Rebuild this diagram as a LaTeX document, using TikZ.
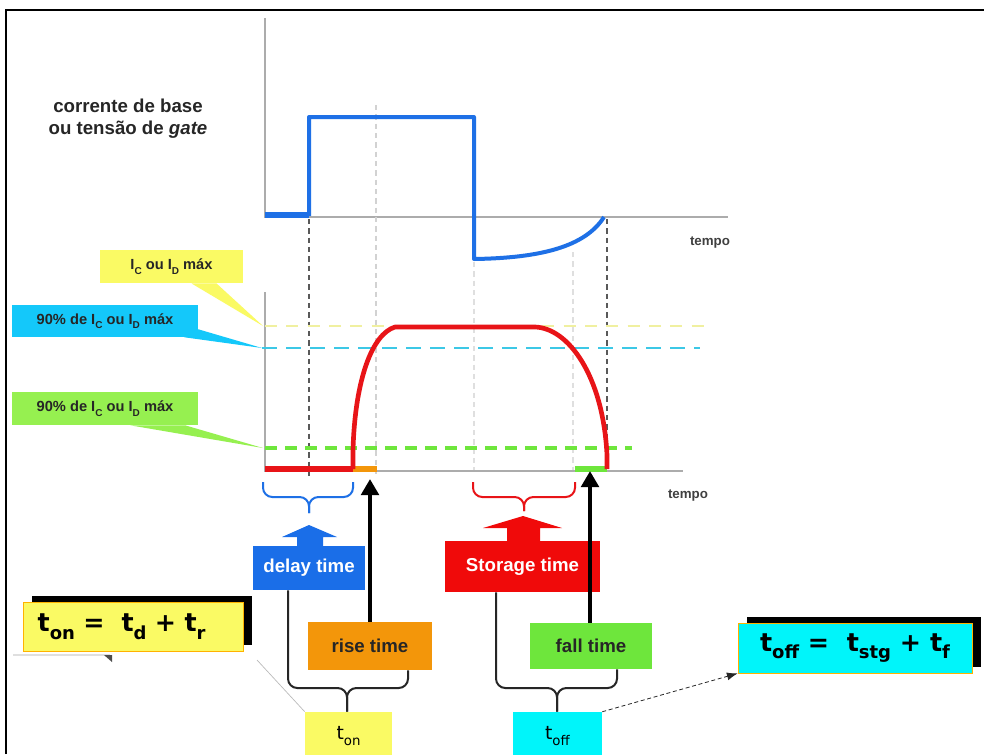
\documentclass[tikz,border=0pt]{standalone}
\usepackage{fontspec}
\setmainfont{Liberation Sans}
\newfontfamily\dvs{DejaVu Sans}
\usetikzlibrary{arrows.meta,shadows,calc}
\newcommand\fs[2]{\fontsize{#1}{#2}\selectfont}
\newcommand\sbx[2][7.5pt]{\raisebox{-0.3em}{\fontsize{#1}{#1}\selectfont #2}}
\definecolor{wblue}{RGB}{30,112,230}
\definecolor{wred}{RGB}{232,20,24}
\definecolor{worange}{RGB}{243,150,10}
\definecolor{wgreen}{RGB}{110,230,60}
\definecolor{lyellow}{RGB}{250,250,100}
\definecolor{lcyan}{RGB}{20,200,250}
\definecolor{lgreen}{RGB}{150,240,80}
\definecolor{pcyan}{RGB}{0,245,250}
\definecolor{dyellow}{RGB}{240,240,160}
\definecolor{dcyan}{RGB}{60,200,230}
\definecolor{bdelay}{RGB}{26,110,232}
\definecolor{rstor}{RGB}{240,10,10}
\tikzset{
  axisline/.style={draw=gray!65, line width=1.1pt},
  guide/.style={draw=gray!70!black, line width=0.8pt, dash pattern=on 4pt off 3pt},
  faintguide/.style={draw=gray!35, line width=0.8pt, dash pattern=on 4pt off 3pt},
  wave/.style={line width=3pt, line join=round},
  lab/.style={inner sep=0pt, font=\fs{11pt}{13pt}\bfseries, text=black!85},
  tbox/.style={inner sep=0pt, font=\fs{14pt}{16pt}\bfseries},
  sumbox/.style={inner sep=0pt, font=\dvs\fs{14pt}{16pt}},
  formula/.style={inner sep=0pt, draw=orange!60!yellow, line width=0.6pt,
    font=\dvs\bfseries\fs{19pt}{22pt},
    drop shadow={shadow xshift=6.5pt, shadow yshift=4.5pt, opacity=1, fill=black}},
  bracket/.style={line width=1.5pt, rounded corners=7pt},
  blackarrow/.style={draw=black, line width=3pt, -{Triangle[width=13pt,length=12pt]}},
  tempolab/.style={font=\fs{10pt}{12pt}\bfseries, text=black!75, inner sep=0pt}
}
\begin{document}
\begin{tikzpicture}[x=0.75pt,y=-0.75pt]
\path[use as bounding box, clip] (0,0) rectangle (988,754);
\fill[white] (0,0) rectangle (988,754);
% frame
\draw[line width=1.8pt] (6,754) -- (6,10) -- (984,10);

% ---------- top graph ----------
\draw[axisline] (265,18) -- (265,217) -- (728,217);
\node[tempolab] (tempo1) at (710,243) {tempo};
\node[align=center, font=\fs{14pt}{16.5pt}\bfseries, text=black!85, inner sep=0pt] (ylab) at (128,119)
  {corrente de base\\ou tensão de \textit{gate}};

% guides
\draw[guide] (309,219) -- (309,477);
\draw[faintguide] (376,105) -- (376,475);
\draw[faintguide, draw=gray!25] (474,262) -- (474,471);
\draw[faintguide, draw=gray!25] (573,252) -- (573,471);
\draw[guide] (607,219) -- (607,471);

% blue waveform
\draw[draw=wblue, line width=4.5pt] (265,215) -- (309,215);
\draw[wave, draw=wblue] (309,216) -- (309,117) -- (474,117) -- (474,259)
   .. controls (540,258) and (585,247) .. (604,217);

% ---------- bottom graph ----------
\draw[axisline] (265,292) -- (265,471) -- (683,471);
\node[tempolab] (tempo2) at (688,496) {tempo};

\draw[draw=dyellow, line width=2.2pt, dash pattern=on 9pt off 7pt] (265,326) -- (710,326);
\draw[draw=dcyan, line width=1.3pt, dash pattern=on 11pt off 7pt] (262,348) -- (700,348);
\draw[draw=wgreen, line width=3pt, dash pattern=on 9pt off 6pt] (265,448) -- (632,448);

\draw[draw=wred, line width=4.5pt] (265,469) -- (353,469);
\draw[draw=worange, line width=4.5pt] (353,469) -- (377,469);
\draw[draw=wgreen, line width=4.5pt] (575,469) -- (607,469);
\draw[wave, draw=wred, line width=3.5pt] (353,469) -- (353,450)
   .. controls (355,380) and (372,334) .. (395,327) -- (535,327)
   .. controls (568,328) and (603,375) .. (607,455) -- (607,469);

% ---------- left callouts ----------
\node[lab, fill=lyellow, minimum width=107pt, minimum height=25pt] (lmax) at (171.5,266.5)
  {I\sbx{C} ou I\sbx{D} máx};
\node[lab, fill=lcyan, minimum width=139.5pt, minimum height=24pt] (l90) at (105,321)
  {90\% de I\sbx{C} ou I\sbx{D} máx};
\node[lab, fill=lgreen, minimum width=139.5pt, minimum height=24.75pt] (l10) at (105,408.5)
  {90\% de I\sbx{C} ou I\sbx{D} máx};
\coordinate (pmax) at (263,326);
\coordinate (p90) at (262,348);
\coordinate (p10) at (263,448);
\fill[lyellow] ($(lmax.south)+(20,0)$) -- ($(lmax.south)+(45,0)$) -- (pmax) -- cycle;
\fill[lcyan] ($(l90.south east)+(-14,0)$) -- ($(l90.south east)+(0,-8)$) -- (p90) -- cycle;
\fill[lgreen] ($(l10.south)+(25,0)$) -- ($(l10.south)+(80,0)$) -- (p10) -- cycle;

% ---------- braces under the time axis ----------
\draw[bracket, draw=wblue] (263,482) -- (263,497) -- (309,497) -- (309,513);
\draw[bracket, draw=wblue] (353,482) -- (353,497) -- (309,497) -- (309,513);
\draw[bracket, draw=wred] (473,482) -- (473,497) -- (524,497) -- (524,511);
\draw[bracket, draw=wred] (575,482) -- (575,497) -- (524,497) -- (524,511);

% block arrows
\fill[bdelay] (309,525) -- (337,537) -- (323,537) -- (323,547) -- (297,547) -- (297,537) -- (282,537) -- cycle;
\fill[rstor] (523,516) -- (562,528) -- (540,528) -- (540,542) -- (507,542) -- (507,528) -- (483,528) -- cycle;

% ---------- boxes ----------
\node[tbox, fill=bdelay, text=white, minimum width=84pt, minimum height=33pt] (delay) at (309,568) {delay time};
\node[tbox, fill=rstor, text=white, minimum width=116.25pt, minimum height=38.25pt] (stor) at (522.5,566.5) {Storage time};
\node[tbox, fill=worange, text=black!85, minimum width=93pt, minimum height=36pt] (rise) at (370,646) {rise time};
\node[tbox, fill=wgreen, text=black!85, minimum width=91.5pt, minimum height=34.5pt] (fall) at (591,646) {fall time};
\node[sumbox, fill=lyellow, minimum width=65.25pt, minimum height=36pt] (ton) at (348.5,736) {t\sbx[10pt]{on}};
\node[sumbox, fill=pcyan, minimum width=66.75pt, minimum height=36pt] (toff) at (557.5,736) {t\sbx[10pt]{off}};

% black arrows
\coordinate (xr) at (370,0);
\coordinate (xf) at (590,0);
\coordinate (risetip) at (370,479);
\coordinate (falltip) at (590,471);
\draw[blackarrow] (rise.north -| xr) -- (risetip);
\draw[blackarrow] (fall.north -| xf) -- (falltip);

% braces joining to t_on / t_off
\coordinate (xdl) at (288,0);
\coordinate (xrr) at (408,0);
\coordinate (xsl) at (496,0);
\coordinate (xfr) at (617,0);
\draw[bracket, draw=black!85] (delay.south -| xdl) -- (288,688) -- (347,688) -- (ton.north -| {347,0});
\draw[bracket, draw=black!85] (rise.south -| xrr) -- (408,688) -- (347,688) -- (ton.north -| {347,0});
\draw[bracket, draw=black!85] (stor.south -| xsl) -- (496,688) -- (557,688) -- (toff.north -| {557,0});
\draw[bracket, draw=black!85] (fall.south -| xfr) -- (617,688) -- (557,688) -- (toff.north -| {557,0});

% ---------- formulas ----------
\node[formula, fill=lyellow, minimum width=165pt, minimum height=36.75pt, text width=143pt, align=left] (fon) at (133,626.5)
  {t\sbx[13.5pt]{on}~=~~t\sbx[13.5pt]{d}~+~t\sbx[13.5pt]{r}};
\node[formula, fill=pcyan, minimum width=175.5pt, minimum height=37.5pt] (foff) at (855,648)
  {t\sbx[13.5pt]{off}~=~~t\sbx[13.5pt]{stg}~+~t\sbx[13.5pt]{f}};

\coordinate (fonfoot) at (257,660);
\draw[gray!55, line width=0.5pt] (fonfoot) -- (ton.north west);
\draw[gray!30!black, line width=0.6pt, densely dashed, -{Latex[length=8pt,width=6pt]}] (toff.north east) -- (foff.south west);

% faint remnants
\draw[gray!25, line width=1pt] (13,655) -- (110,655);
\fill[black!70] (104,655) -- (112,655) -- (112,662) -- cycle;
\end{tikzpicture}
\end{document}
